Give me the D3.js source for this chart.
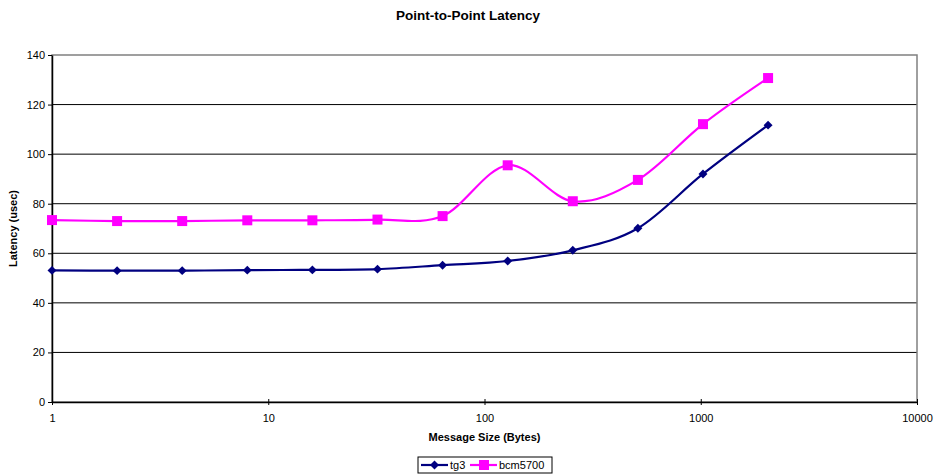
<!DOCTYPE html>
<html>
<head>
<meta charset="utf-8">
<script src="https://cdn.jsdelivr.net/npm/d3@7"></script>
<style>
  body { margin: 0; background: #fff; }
  svg { font-family: "Liberation Sans", Arial, sans-serif; }
</style>
</head>
<body>
<div id="chart"></div>
<script>
// message sizes (bytes)
const sizes = [1, 2, 4, 8, 16, 32, 64, 128, 256, 512, 1024, 2048];
// latency values (usec)
const tg3 = [53.1, 53.0, 53.0, 53.2, 53.3, 53.6, 55.2, 56.9, 61.2, 70.1, 92.0, 111.7];
const bcm5700 = [73.4, 73.0, 73.0, 73.3, 73.3, 73.6, 75.0, 95.5, 81.0, 89.6, 112.1, 130.7];
const xTicks = [1, 10, 100, 1000, 10000];
const yTicks = [0, 20, 40, 60, 80, 100, 120, 140];

const width = 934, height = 475;
const margin = {top: 55, right: 17, bottom: 73, left: 52};
const w = width - margin.left - margin.right;
const h = height - margin.top - margin.bottom;

const svg = d3.select("#chart").append("svg")
    .attr("width", width)
    .attr("height", height);

const g = svg.append("g")
    .attr("transform", `translate(${margin.left},${margin.top})`);

const x = d3.scaleLog().domain([1, 10000]).range([0, w]);
const y = d3.scaleLinear().domain([0, 140]).range([h, 0]);

// gridlines
g.selectAll(".grid")
    .data(yTicks.filter(d => d > 0 && d < 140))
    .enter().append("line")
    .attr("x1", 0).attr("x2", w)
    .attr("y1", d => y(d)).attr("y2", d => y(d))
    .attr("stroke", "#000").attr("stroke-width", 1);

// plot border
g.append("rect")
    .attr("x", 0).attr("y", 0).attr("width", w).attr("height", h)
    .attr("fill", "none").attr("stroke", "#808080").attr("stroke-width", 1.5);

// axes
const yAxis = g.append("g")
    .call(d3.axisLeft(y).tickValues(yTicks).tickSize(4).tickSizeOuter(0));
const xAxis = g.append("g")
    .attr("transform", `translate(0,${h})`)
    .call(d3.axisBottom(x).tickValues(xTicks).tickFormat(d3.format("d")).tickSize(4).tickSizeOuter(0));
[xAxis, yAxis].forEach(a => {
    a.select(".domain").attr("stroke", "#000").attr("stroke-width", 1.5);
    a.selectAll(".tick line").attr("stroke", "#000");
    a.selectAll("text").style("font-size", "11px").attr("fill", "#000")
        .style("font-family", "Liberation Sans, Arial, sans-serif");
});
xAxis.selectAll(".tick line").attr("y1", -3).attr("y2", 3);
xAxis.selectAll("text").attr("y", 12);
yAxis.selectAll(".tick line").attr("x1", -4).attr("x2", 0);
yAxis.selectAll("text").attr("x", -7);

// series
const line = d3.line()
    .x((d, i) => x(sizes[i]))
    .y(d => y(d))
    .curve(d3.curveCardinal.tension(0));

g.append("path").datum(bcm5700)
    .attr("fill", "none").attr("stroke", "#ff00ff").attr("stroke-width", 2.2)
    .attr("d", line);
g.append("path").datum(tg3)
    .attr("fill", "none").attr("stroke", "#000080").attr("stroke-width", 2.2)
    .attr("d", line);

g.selectAll(".sq").data(bcm5700).enter().append("rect")
    .attr("x", (d, i) => x(sizes[i]) - 5)
    .attr("y", d => y(d) - 5)
    .attr("width", 10).attr("height", 10)
    .attr("fill", "#ff00ff");

g.selectAll(".dm").data(tg3).enter().append("path")
    .attr("d", d3.symbol().type(d3.symbolSquare).size(40))
    .attr("transform", (d, i) => `translate(${x(sizes[i])},${y(d)}) rotate(45)`)
    .attr("fill", "#000080");

// titles
svg.append("text")
    .attr("x", 468).attr("y", 20)
    .attr("text-anchor", "middle")
    .style("font-size", "13.5px").style("font-weight", "bold")
    .text("Point-to-Point Latency");

svg.append("text")
    .attr("x", margin.left + w / 2).attr("y", 441)
    .attr("text-anchor", "middle")
    .style("font-size", "11px").style("font-weight", "bold")
    .text("Message Size (Bytes)");

svg.append("text")
    .attr("transform", `translate(17,${margin.top + h / 2}) rotate(-90)`)
    .attr("text-anchor", "middle")
    .style("font-size", "11px").style("font-weight", "bold")
    .text("Latency (usec)");

// legend
const leg = svg.append("g").attr("transform", "translate(418,457)");
leg.append("rect").attr("width", 134).attr("height", 16)
    .attr("fill", "#fff").attr("stroke", "#000").attr("stroke-width", 1);
const items = [
    {name: "tg3", color: "#000080", shape: "diamond", x: 3},
    {name: "bcm5700", color: "#ff00ff", shape: "square", x: 52}
];
items.forEach(it => {
    const li = leg.append("g").attr("transform", `translate(${it.x},8)`);
    li.append("line").attr("x1", 0).attr("x2", 27).attr("y1", 0).attr("y2", 0)
        .attr("stroke", it.color).attr("stroke-width", 2.2);
    if (it.shape === "square") {
        li.append("rect").attr("x", 9).attr("y", -5).attr("width", 10).attr("height", 10)
            .attr("fill", it.color);
    } else {
        li.append("path").attr("d", d3.symbol().type(d3.symbolSquare).size(40))
            .attr("transform", "translate(13.5,0) rotate(45)")
            .attr("fill", it.color);
    }
    li.append("text").attr("x", 29).attr("y", 4)
        .style("font-size", "11px").text(it.name);
});
</script>
</body>
</html>
